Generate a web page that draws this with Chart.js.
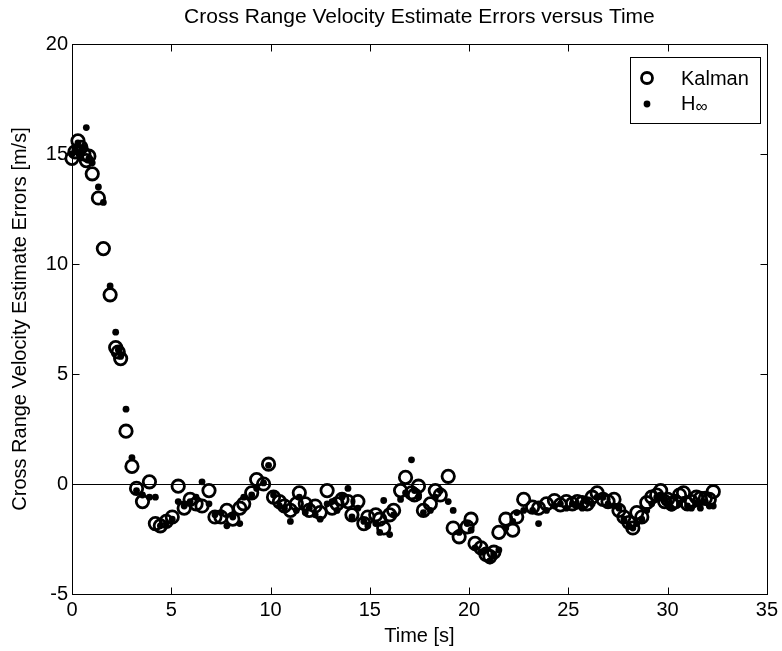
<!DOCTYPE html>
<html>
<head>
<meta charset="utf-8">
<script src="https://cdn.jsdelivr.net/npm/chart.js@4/dist/chart.umd.min.js"></script>
<style>
  html, body { margin: 0; padding: 0; background: #fff; }
  #wrap { width: 782px; height: 651px; }
</style>
</head>
<body>
<div id="wrap"><canvas id="errChart" width="782" height="651"></canvas></div>
<script>
// sample times [s]
const times = [
  0.00, 0.15, 0.30, 0.45, 0.60, 0.72, 0.85, 1.02, 1.33, 1.58,
  1.92, 2.20, 2.33, 2.45, 2.72, 3.02, 3.25, 3.55, 3.90, 4.20,
  4.45, 4.75, 5.05, 5.35, 5.65, 5.95, 6.25, 6.55, 6.90, 7.20,
  7.50, 7.80, 8.10, 8.45, 8.65, 9.05, 9.30, 9.65, 9.90, 10.15,
  10.45, 10.70, 11.00, 11.30, 11.45, 11.75, 11.95, 12.25, 12.50, 12.85,
  13.10, 13.35, 13.60, 13.90, 14.10, 14.40, 14.70, 14.90, 15.30, 15.50,
  15.70, 16.00, 16.20, 16.55, 16.80, 17.10, 17.25, 17.45, 17.70, 18.05,
  18.30, 18.55, 18.95, 19.20, 19.50, 19.90, 20.10, 20.30, 20.60, 20.85,
  21.05, 21.25, 21.50, 21.85, 22.20, 22.40, 22.75, 23.20, 23.50, 23.90,
  24.30, 24.60, 24.90, 25.20, 25.45, 25.70, 25.95, 26.20, 26.45, 26.75,
  27.00, 27.30, 27.55, 27.80, 28.05, 28.25, 28.45, 28.70, 28.95, 29.20,
  29.45, 29.65, 29.85, 30.00, 30.20, 30.40, 30.60, 30.80, 31.00, 31.20,
  31.45, 31.65, 31.90, 32.10, 32.30
];

// Kalman filter error [m/s]
const kalman = [
  14.8, 15.1, 15.6, 15.3, 15.0, 14.7, 14.9, 14.1, 13.0, 10.7,
  8.6, 6.2, 6.0, 5.7, 2.4, 0.8, -0.2, -0.8, 0.1, -1.8,
  -1.9, -1.7, -1.5, -0.1, -1.1, -0.7, -0.9, -1.0, -0.3, -1.5,
  -1.5, -1.2, -1.6, -1.1, -0.9, -0.4, 0.2, 0.0, 0.9, -0.6,
  -0.8, -1.0, -1.2, -0.9, -0.4, -0.9, -1.2, -1.0, -1.3, -0.3,
  -1.1, -0.9, -0.7, -0.8, -1.4, -0.8, -1.8, -1.5, -1.4, -1.6,
  -2.0, -1.4, -1.2, -0.3, 0.3, -0.4, -0.5, -0.1, -1.2, -0.9,
  -0.3, -0.5, 0.35, -2.0, -2.4, -1.95, -1.6, -2.7, -2.9, -3.2,
  -3.3, -3.1, -2.2, -1.6, -2.1, -1.5, -0.7, -1.05, -1.1, -0.9,
  -0.75, -0.95, -0.8, -0.9, -0.8, -0.85, -0.9, -0.6, -0.4, -0.7,
  -0.8, -0.7, -1.2, -1.5, -1.75, -2.0, -1.3, -1.5, -0.85, -0.6,
  -0.5, -0.3, -0.8, -0.7, -0.9, -0.8, -0.5, -0.4, -0.9, -0.8,
  -0.6, -0.65, -0.65, -0.7, -0.35
];

// H-infinity filter error [m/s]
const hinf = [
  15.0, 15.2, 15.5, 15.1, 15.3, 16.2, 14.8, 14.6, 13.5, 12.8,
  9.0, 6.9, 6.1, 5.8, 3.4, 1.2, -0.3, -0.5, -0.6, -0.6,
  -1.9, -1.8, -1.6, -0.8, -1.0, -0.8, -0.6, 0.1, -0.9, -1.4,
  -1.3, -1.9, -1.5, -1.8, -0.6, -0.5, -0.2, 0.05, 0.85, -0.5,
  -1.0, -1.1, -1.7, -1.2, -0.6, -1.3, -1.1, -1.4, -1.6, -0.9,
  -0.8, -1.2, -0.6, -0.2, -1.5, -1.1, -1.7, -1.9, -1.8, -2.2,
  -0.75, -2.3, -1.4, -0.7, -0.4, 1.1, -0.3, -0.6, -1.3, -1.2,
  -0.6, -0.3, -0.8, -1.2, -2.2, -1.8, -2.1, -2.9, -3.1, -3.0,
  -3.5, -3.2, -3.0, -2.0, -1.7, -1.3, -1.2, -1.2, -1.8, -1.2,
  -1.0, -0.9, -1.1, -0.9, -1.0, -1.1, -0.8, -0.9, -0.6, -0.6,
  -0.9, -1.0, -1.1, -1.6, -1.9, -2.0, -1.8, -1.6, -1.2, -0.9,
  -0.6, -0.5, -0.7, -0.9, -1.1, -0.6, -0.9, -0.7, -1.0, -1.1,
  -0.9, -1.1, -0.8, -1.0, -1.0
];

const xTicks = [0, 5, 10, 15, 20, 25, 30, 35];
const yTicks = [-5, 0, 5, 10, 15, 20];

const FONT = 'Arial, "Liberation Sans", Helvetica, sans-serif';
const FS = 20;

// frame, inward ticks, zero line, title and legend, matlab style
const matlabFrame = {
    id: 'matlabFrame',
    beforeDatasetsDraw(chart) {
        const { ctx, chartArea: a, scales: { y } } = chart;
        const y0 = Math.round(y.getPixelForValue(0)) + 0.5;
        ctx.save();
        ctx.strokeStyle = '#000';
        ctx.lineWidth = 1;
        ctx.beginPath();
        ctx.moveTo(a.left, y0);
        ctx.lineTo(a.right, y0);
        ctx.stroke();
        ctx.restore();
    },
    afterDraw(chart) {
        const { ctx, chartArea: a, scales: { x, y } } = chart;
        const L = Math.round(a.left) + 0.5, R = Math.round(a.right) + 0.5;
        const T = Math.round(a.top) + 0.5, B = Math.round(a.bottom) + 0.5;
        ctx.save();
        ctx.strokeStyle = '#000';
        ctx.lineWidth = 1;
        ctx.strokeRect(L, T, R - L, B - T);
        ctx.beginPath();
        const tl = 7;
        xTicks.forEach(v => {
            const px = Math.round(x.getPixelForValue(v)) + 0.5;
            ctx.moveTo(px, B); ctx.lineTo(px, B - tl);
            ctx.moveTo(px, T); ctx.lineTo(px, T + tl);
        });
        yTicks.forEach(v => {
            const py = Math.round(y.getPixelForValue(v)) + 0.5;
            ctx.moveTo(L, py); ctx.lineTo(L + tl, py);
            ctx.moveTo(R, py); ctx.lineTo(R - tl, py);
        });
        ctx.stroke();

        // title
        ctx.fillStyle = '#000';
        ctx.font = '21px ' + FONT;
        ctx.textAlign = 'center';
        ctx.textBaseline = 'middle';
        ctx.fillText('Cross Range Velocity Estimate Errors versus Time', (a.left + a.right) / 2, 17);

        // legend box
        const bx = 630.5, by = 57.5, bw = 130, bh = 66;
        ctx.fillStyle = '#fff';
        ctx.fillRect(bx, by, bw, bh);
        ctx.strokeRect(bx, by, bw, bh);
        ctx.beginPath();
        ctx.lineWidth = 2.8;
        ctx.arc(647, 78, 5.5, 0, Math.PI * 2);
        ctx.stroke();
        ctx.fillStyle = '#000';
        ctx.beginPath();
        ctx.arc(647, 104, 3.4, 0, Math.PI * 2);
        ctx.fill();
        ctx.font = FS + 'px ' + FONT;
        ctx.textAlign = 'left';
        ctx.fillText('Kalman', 681, 79);
        ctx.fillText('H', 681, 104);
        const hw = ctx.measureText('H').width;
        ctx.font = (FS - 3) + 'px ' + FONT;
        ctx.fillText('\u221E', 681 + hw, 107);
        ctx.restore();
    }
};

new Chart(document.getElementById('errChart'), {
    type: 'scatter',
    data: {
        datasets: [
            {
                label: 'Kalman',
                data: times.map((t, i) => ({ x: t, y: kalman[i] })),
                pointStyle: 'circle',
                pointRadius: 6.2,
                pointBorderWidth: 2.8,
                borderColor: '#000',
                backgroundColor: 'rgba(0,0,0,0)',
                order: 2
            },
            {
                label: 'H\u221E',
                data: times.map((t, i) => ({ x: t, y: hinf[i] })),
                pointStyle: 'circle',
                pointRadius: 3.4,
                pointBorderWidth: 0,
                borderColor: '#000',
                backgroundColor: '#000',
                order: 1
            }
        ]
    },
    options: {
        responsive: false,
        animation: false,
        clip: false,
        layout: { padding: { top: 44, right: 15, left: 0, bottom: 0 } },
        plugins: {
            legend: { display: false },
            tooltip: { enabled: false }
        },
        scales: {
            x: {
                type: 'linear',
                min: 0,
                max: 35,
                afterFit: s => { s.height = 57; },
                afterBuildTicks: s => { s.ticks = xTicks.map(v => ({ value: v })); },
                grid: { display: false, drawTicks: false },
                border: { display: false },
                ticks: { color: '#000', font: { size: FS, family: FONT }, padding: 4, maxRotation: 0 },
                title: { display: true, text: 'Time [s]', color: '#000', font: { size: FS, family: FONT }, padding: { top: 0, bottom: 3 } }
            },
            y: {
                type: 'linear',
                min: -5,
                max: 20,
                afterFit: s => { s.width = 72; },
                afterBuildTicks: s => { s.ticks = yTicks.map(v => ({ value: v })); },
                grid: { display: false, drawTicks: false },
                border: { display: false },
                ticks: { color: '#000', font: { size: FS, family: FONT }, padding: 4 },
                title: { display: true, text: 'Cross Range Velocity Estimate Errors [m/s]', color: '#000', font: { size: FS, family: FONT }, padding: { top: 8, bottom: 0 } }
            }
        }
    },
    plugins: [matlabFrame]
});
</script>
</body>
</html>
